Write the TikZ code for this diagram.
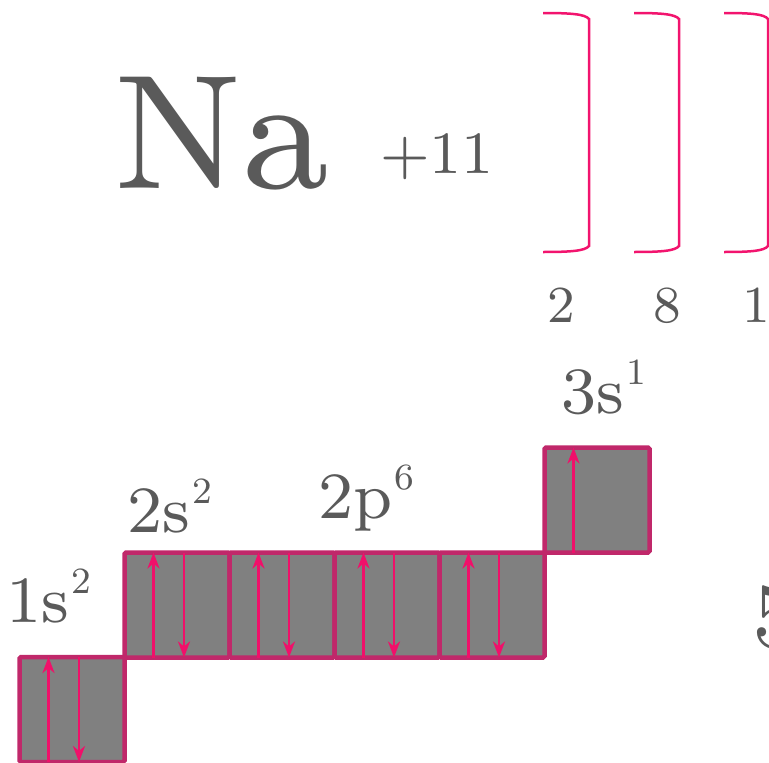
\documentclass[tikz,border=0pt]{standalone}
\usepackage{fontspec}
\setmainfont{lmroman8-regular.otf}
\usetikzlibrary{arrows.meta}
\definecolor{txt}{HTML}{5A5A5A}
\definecolor{brk}{HTML}{F2146E}
\definecolor{bord}{HTML}{C0286A}
\definecolor{arr}{HTML}{F0106A}
\definecolor{boxfill}{HTML}{808080}
\newcommand\fs[1]{\fontsize{#1}{#1}\selectfont}
\newcommand\supr[1]{\kern3pt\raisebox{29pt}{\fs{37}#1}}
\begin{document}
\begin{tikzpicture}[x=1pt,y=-1pt,
 orb/.style={draw=bord, fill=boxfill, line width=4.5pt, minimum width=105pt, minimum height=105pt, inner sep=0, outer sep=0, rounded corners=1.5pt},
 lbl/.style={text=txt, inner sep=0, outer sep=0, anchor=base west, font=\fs{66}},
 num/.style={text=txt, inner sep=0, outer sep=0, anchor=base, font=\fs{52}},
 brack/.style={draw=brk, line width=2.5pt},
 spin/.style={draw=arr, line width=2.8pt, -{Stealth[length=16pt,width=12pt,inset=5pt]}},
]
\useasboundingbox (0,0) rectangle (769,763);
% shells
\draw[brack] (543,13) .. controls (570,13) and (585,14) .. (589,19) -- (589,246) .. controls (585,251) and (570,252) .. (543,252);
\draw[brack] (634,13) .. controls (661,13) and (675,14) .. (679,19) -- (679,246) .. controls (675,251) and (661,252) .. (634,252);
\draw[brack] (724,13) .. controls (751,13) and (764,14) .. (768,19) -- (768,246) .. controls (764,251) and (751,252) .. (724,252);
\node[num] (n1) at (561,322) {2};
\node[num] (n2) at (667,322) {8};
\node[num] (n3) at (756,322) {1};
% symbol
\node[lbl, font=\fs{163}] (na) at (113,188) {Na};
\node[lbl, font=\fs{60}] (charge) at (380,173) {+11};
% orbital boxes
\node[orb] (b1) at (72,709.5) {};
\node[orb] (b2) at (177,605) {};
\node[orb] (b3) at (282,605) {};
\node[orb] (b4) at (387,605) {};
\node[orb] (b5) at (492,605) {};
\node[orb] (b6) at (597,500) {};
\foreach \b in {b1,b2,b3,b4,b5}{
  \draw[spin] ([xshift=-23.5pt]\b.south) -- ([xshift=-23.5pt]\b.north);
  \draw[spin] ([xshift=7pt]\b.north) -- ([xshift=7pt]\b.south);
}
\draw[spin] ([xshift=-23.5pt]b6.south) -- ([xshift=-23.5pt]b6.north);
% labels
\node[lbl] (l1s) at (6,622) {1s\supr{2}};
\node[lbl] (l2s) at (127,532) {2s\supr{2}};
\node[lbl] (l2p) at (318,518) {2p\supr{6}};
\node[lbl] (l3s) at (561,413) {3s\supr{1}};
\node[lbl, font=\fs{93}] (cut) at (752,647) {5};
\end{tikzpicture}
\end{document}
